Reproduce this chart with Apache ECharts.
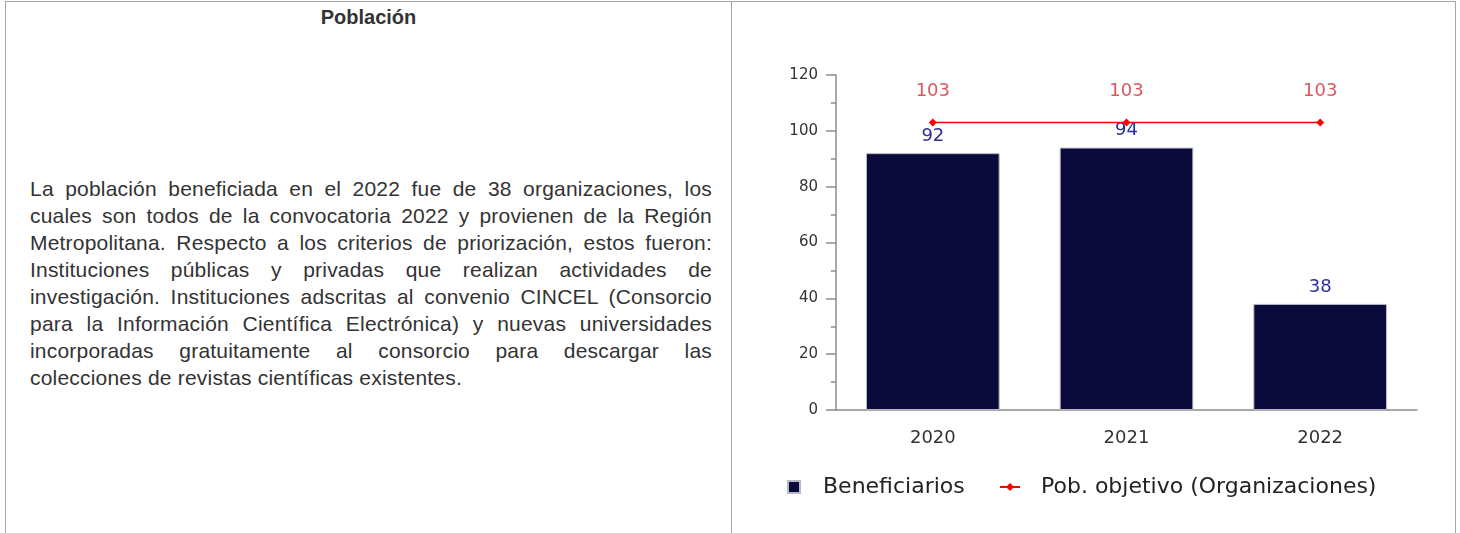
<!DOCTYPE html>
<html>
<head>
<meta charset="utf-8">
<script src="https://cdn.jsdelivr.net/npm/echarts@6/dist/echarts.min.js"></script>
<style>
  html, body { margin: 0; padding: 0; background: #fff; }
  .frame {
    position: absolute; left: 5px; top: 1px; width: 1451px; height: 560px;
    border: 1px solid #a6a6a6; border-bottom: none; box-sizing: border-box;
  }
  .divider { position: absolute; left: 731px; top: 1px; width: 1px; height: 540px; background: #a6a6a6; }
  .title {
    position: absolute; left: 6px; width: 725px; top: 6px; text-align: center;
    font: bold 20px "Liberation Sans", Arial, sans-serif; color: #333;
  }
  .text {
    position: absolute; left: 30px; width: 682px; top: 175px;
    font: 21px/27px "Liberation Sans", Arial, sans-serif; color: #333; letter-spacing: 0.2px;
  }
  .text div { text-align: justify; text-align-last: justify; white-space: nowrap; }
  .text div.last { text-align-last: left; }
  #chart { position: absolute; left: 733px; top: 2px; width: 723px; height: 531px; }
</style>
</head>
<body>
<div class="frame"></div>
<div class="divider"></div>
<div class="title">Población</div>
<div class="text">
  <div>La población beneficiada en el 2022 fue de 38 organizaciones, los</div>
  <div>cuales son todos de la convocatoria 2022 y provienen de la Región</div>
  <div>Metropolitana. Respecto a los criterios de priorización, estos fueron:</div>
  <div>Instituciones públicas y privadas que realizan actividades de</div>
  <div>investigación. Instituciones adscritas al convenio CINCEL (Consorcio</div>
  <div>para la Información Científica Electrónica) y nuevas universidades</div>
  <div>incorporadas gratuitamente al consorcio para descargar las</div>
  <div class="last">colecciones de revistas científicas existentes.</div>
</div>
<div id="chart"></div>
<script>
const years = ['2020', '2021', '2022']
const beneficiarios = [92, 94, 38]
const poblacionObjetivo = [103, 103, 103]
const yTicks = { min: 0, max: 120, interval: 20 }

const chart = echarts.init(document.getElementById('chart'))
const font = '"DejaVu Sans", Verdana, sans-serif'

chart.setOption({
  animation: false,
  textStyle: { fontFamily: font },
  grid: { left: 103, right: 39, top: 73, bottom: 123 },
  legend: [
    {
      data: ['Beneficiarios'],
      left: 49, top: 469,
      itemWidth: 12, itemHeight: 12,
      icon: 'rect',
      textStyle: { fontFamily: font, fontSize: 22, color: '#222', padding: [0, 0, 0, 18] },
    },
    {
      data: ['Pob. objetivo (Organizaciones)'],
      left: 261, top: 469,
      itemWidth: 20, itemHeight: 10,
      textStyle: { fontFamily: font, fontSize: 22, color: '#222', padding: [0, 0, 0, 16] },
    },
  ],
  xAxis: {
    type: 'category',
    data: years,
    axisTick: { show: false },
    axisLine: { lineStyle: { color: '#8c8c8c', width: 1.5 } },
    axisLabel: { fontFamily: font, fontSize: 18, color: '#333', margin: 19 },
  },
  yAxis: {
    type: 'value',
    min: yTicks.min, max: yTicks.max, interval: yTicks.interval,
    axisLine: { show: true, lineStyle: { color: '#8c8c8c', width: 1.5 } },
    axisTick: { show: true, length: 10, lineStyle: { color: '#8c8c8c', width: 1.5 } },
    minorTick: { show: true, splitNumber: 2, length: 5, lineStyle: { color: '#8c8c8c', width: 1.5 } },
    splitLine: { show: false },
    axisLabel: { fontFamily: font, fontSize: 15, color: '#333', margin: 18 },
  },
  series: [
    {
      name: 'Beneficiarios',
      type: 'bar',
      data: beneficiarios,
      barCategoryGap: '31%',
      itemStyle: { color: '#0b0b3b', borderColor: '#b8b8c8', borderWidth: 1 },
      label: { show: true, position: 'top', distance: 8, color: '#2e2e9a', fontSize: 18, fontFamily: font },
    },
    {
      name: 'Pob. objetivo (Organizaciones)',
      type: 'line',
      data: poblacionObjetivo,
      symbol: 'diamond',
      symbolSize: 8,
      color: '#ff0000',
      lineStyle: { color: '#ff0000', width: 1.5 },
      itemStyle: { color: '#ff0000' },
      label: { show: true, position: 'top', distance: 18, color: '#d9585f', fontSize: 18, fontFamily: font },
    },
  ],
})
</script>
</body>
</html>
